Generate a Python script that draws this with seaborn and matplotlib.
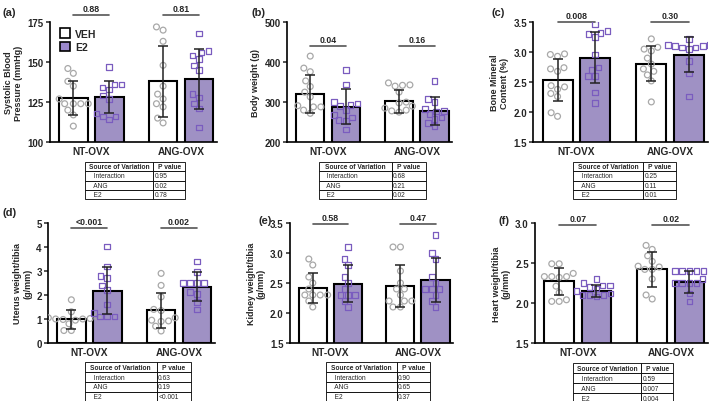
import warnings
import pandas as pd
import matplotlib
matplotlib.use("Agg")
import matplotlib.pyplot as plt
import seaborn as sns
from matplotlib.patches import Patch

warnings.filterwarnings("ignore")

groups = ["NT-OVX", "ANG-OVX"]
treatments = ["VEH", "E2"]
# order of the 4 lists below: NT-VEH, NT-E2, ANG-VEH, ANG-E2

# (a) systolic blood pressure
sbp_mean = [127.5, 128, 138, 139.5]
sbp_sd = [10.5, 10, 22, 18.5]
sbp_pts = [[146, 143, 138, 135, 127, 124, 124, 124, 124, 120, 117, 110],
           [147, 136, 136, 134, 133, 129, 127, 118, 116, 116, 114],
           [172, 170, 163, 148, 135, 130, 127, 124, 122, 115, 112],
           [168, 157, 156, 154, 152, 148, 145, 130, 128, 124, 121, 109]]
sbp_p = ["0.88", "0.81"]
sbp_tab = ["0.95", "0.02", "0.78"]

# (b) body weight
bw_mean = [321, 289, 302, 279]
bw_sd = [48, 44, 29, 35]
bw_pts = [[415, 385, 376, 353, 339, 325, 313, 291, 288, 288, 280, 272],
          [380, 344, 300, 297, 293, 290, 280, 268, 262, 255, 253, 232],
          [348, 343, 342, 340, 325, 300, 298, 290, 285, 280, 278, 275],
          [353, 308, 300, 283, 278, 277, 270, 262, 258, 248, 240]]
bw_p = ["0.04", "0.16"]
bw_tab = ["0.68", "0.21", "0.02"]

# (c) bone mineral content
bmc_mean = [2.53, 2.91, 2.81, 2.96]
bmc_sd = [0.35, 0.43, 0.29, 0.29]
bmc_pts = [[2.97, 2.96, 2.93, 2.74, 2.72, 2.68, 2.44, 2.42, 2.38, 2.31, 2.26, 1.99, 1.93],
           [3.47, 3.35, 3.32, 3.30, 3.25, 2.96, 2.74, 2.70, 2.60, 2.60, 2.33, 2.15],
           [3.22, 3.08, 3.05, 3.02, 2.90, 2.80, 2.72, 2.68, 2.62, 2.52, 2.17],
           [3.22, 3.12, 3.12, 3.10, 3.10, 3.08, 3.08, 3.05, 2.85, 2.64, 2.26]]
bmc_p = ["0.008", "0.30"]
bmc_tab = ["0.25", "0.11", "0.01"]

# (d) uterus weight / tibia
ut_mean = [0.98, 2.18, 1.36, 2.35]
ut_sd = [0.38, 0.97, 0.72, 0.62]
ut_pts = [[1.80, 1.30, 1.10, 1.05, 1.02, 1.00, 1.00, 0.98, 0.95, 0.80, 0.52, 0.52],
          [4.02, 3.18, 2.80, 2.70, 2.40, 2.20, 1.60, 1.25, 1.10, 1.10, 1.10],
          [2.90, 2.40, 1.92, 1.40, 1.35, 1.05, 0.95, 0.92, 0.90, 0.70, 0.50],
          [3.40, 2.95, 2.50, 2.50, 2.50, 2.50, 2.12, 2.05, 1.70, 1.40]]
ut_p = ["<0.001", "0.002"]
ut_tab = ["0.63", "0.19", "<0.001"]

# (e) kidney weight / tibia
kid_mean = [2.42, 2.49, 2.45, 2.55]
kid_sd = [0.25, 0.31, 0.35, 0.37]
kid_pts = [[2.9, 2.8, 2.6, 2.5, 2.4, 2.3, 2.3, 2.3, 2.3, 2.2, 2.1],
           [3.1, 2.9, 2.8, 2.6, 2.5, 2.4, 2.3, 2.3, 2.3, 2.2, 2.1],
           [3.1, 3.1, 2.7, 2.5, 2.4, 2.4, 2.3, 2.2, 2.2, 2.2, 2.1, 2.1],
           [3.3, 3.0, 2.9, 2.6, 2.5, 2.4, 2.4, 2.4, 2.3, 2.2, 2.1]]
kid_p = ["0.58", "0.47"]
kid_tab = ["0.90", "0.65", "0.37"]

# (f) heart weight / tibia
hw_mean = [2.27, 2.15, 2.42, 2.26]
hw_sd = [0.17, 0.07, 0.22, 0.14]
hw_pts = [[2.49, 2.49, 2.37, 2.33, 2.33, 2.33, 2.32, 2.21, 2.13, 2.04, 2.02, 2.02],
          [2.30, 2.25, 2.22, 2.22, 2.20, 2.18, 2.15, 2.12, 2.10, 2.10, 2.10, 2.08],
          [2.72, 2.67, 2.59, 2.52, 2.46, 2.45, 2.42, 2.42, 2.30, 2.10, 2.05],
          [2.40, 2.40, 2.40, 2.40, 2.40, 2.30, 2.25, 2.25, 2.25, 2.25, 2.12, 2.02]]
hw_p = ["0.07", "0.02"]
hw_tab = ["0.59", "0.007", "0.004"]

sources = ["Interaction", "ANG", "E2"]

PURPLE = "#9b88cc"
SQ_EDGE = "#7a5cbf"
CIRC_EDGE = "#a8a8a8"

sns.set_style("ticks")
plt.rcParams["font.family"] = ["Liberation Sans", "DejaVu Sans"]
plt.rcParams["font.weight"] = "bold"
plt.rcParams["axes.labelweight"] = "bold"

fig = plt.figure(figsize=(7.09, 4.02), dpi=100)

# tag, axes rect, means, sds, points, p labels, table, ylabel, ylim, ticks, bracket y, table bbox, tag pos
panels = [
    ("(a)", [0.0705, 0.644, 0.2355, 0.2985], sbp_mean, sbp_sd, sbp_pts, sbp_p, sbp_tab,
     "Systolic Blood\nPressure (mmHg)", (100, 175), [100, 125, 150, 175], 179.5,
     [0.21, -0.475, 0.60, 0.31], (0.004, 0.968)),
    ("(b)", [0.405, 0.644, 0.233, 0.2985], bw_mean, bw_sd, bw_pts, bw_p, bw_tab,
     "Body weight (g)", (200, 500), [200, 300, 400, 500], 440,
     [0.19, -0.475, 0.65, 0.31], (0.355, 0.968)),
    ("(c)", [0.752, 0.644, 0.246, 0.2985], bmc_mean, bmc_sd, bmc_pts, bmc_p, bmc_tab,
     "Bone Mineral\nContent (%)", (1.5, 3.5), [1.5, 2.0, 2.5, 3.0, 3.5], 3.5,
     [0.23, -0.475, 0.59, 0.31], (0.693, 0.968)),
    ("(d)", [0.0677, 0.1443, 0.2355, 0.2985], ut_mean, ut_sd, ut_pts, ut_p, ut_tab,
     "Uterus weight/tibia\n(g/mm)", (0, 5), [0, 1, 2, 3, 4, 5], 4.8,
     [0.22, -0.49, 0.635, 0.33], (0.004, 0.47)),
    ("(e)", [0.409, 0.1443, 0.230, 0.2985], kid_mean, kid_sd, kid_pts, kid_p, kid_tab,
     "Kidney weight/tibia\n(g/mm)", (1.5, 3.5), [1.5, 2.0, 2.5, 3.0, 3.5], 3.48,
     [0.22, -0.49, 0.64, 0.33], (0.364, 0.45)),
    ("(f)", [0.7546, 0.1443, 0.244, 0.2985], hw_mean, hw_sd, hw_pts, hw_p, hw_tab,
     "Heart weight/tibia\n(g/mm)", (1.5, 3.0), [1.5, 2.0, 2.5, 3.0], 2.98,
     [0.22, -0.50, 0.58, 0.33], (0.703, 0.45)),
]

keys = [(g, t) for g in groups for t in treatments]

for tag, rect, means, sds, pts, plab, tab, ylab, ylim, ticks, by, tbox, tagpos in panels:
    ax = fig.add_axes(rect)

    mdf = pd.DataFrame({"group": [k[0] for k in keys], "trt": [k[1] for k in keys],
                        "mean": means})
    rows = []
    for k, vals in zip(keys, pts):
        for v in vals:
            rows.append({"group": k[0], "trt": k[1], "value": v})
    pdf = pd.DataFrame(rows)

    sns.barplot(data=mdf, x="group", y="mean", hue="trt", order=groups,
                hue_order=treatments, palette={"VEH": "white", "E2": PURPLE},
                edgecolor="black", linewidth=1.5, width=0.8, gap=0.2,
                errorbar=None, legend=False, ax=ax, zorder=1)

    ncoll = len(ax.collections)
    sns.swarmplot(data=pdf[pdf.trt == "VEH"], x="group", y="value", hue="trt",
                  order=groups, hue_order=treatments, dodge=True, marker="o",
                  size=4.2, palette={"VEH": "white", "E2": "white"},
                  edgecolor=CIRC_EDGE, linewidth=0.9, legend=False, ax=ax, zorder=3)
    sns.swarmplot(data=pdf[pdf.trt == "E2"], x="group", y="value", hue="trt",
                  order=groups, hue_order=treatments, dodge=True, marker="s",
                  size=4.0, palette={"VEH": "white", "E2": "white"},
                  edgecolor=SQ_EDGE, linewidth=0.9, legend=False, ax=ax, zorder=3)
    for c in ax.collections[ncoll:]:
        c.set_facecolor("none")

    bars = sorted(ax.patches, key=lambda p: p.get_x())
    centers = [p.get_x() + p.get_width() / 2 for p in bars]
    ax.errorbar(centers, means, yerr=sds, fmt="none", ecolor="#222222",
                elinewidth=1.1, capsize=3.5, capthick=1.1, zorder=4)

    # comparison brackets with p values
    for i, lab in enumerate(plab):
        x0, x1 = centers[2 * i], centers[2 * i + 1]
        ax.plot([x0, x1], [by, by], color="#555555", lw=1.2, clip_on=False)
        ax.annotate(lab, xy=((x0 + x1) / 2, by), xytext=(0, 1.5),
                    textcoords="offset points", ha="center", va="bottom",
                    fontsize=6.3, fontweight="bold", annotation_clip=False)

    ax.set_xlim(-0.46, 1.40)
    ax.set_ylim(*ylim)
    ax.set_yticks(ticks)
    ax.set_yticklabels([f"{t:g}" if isinstance(t, int) else f"{t:.1f}" for t in ticks])
    ax.set_xlabel("")
    ax.set_ylabel(ylab, fontsize=6.5, fontweight="bold", labelpad=3)
    ax.tick_params(axis="y", direction="out", length=3, width=1.1, labelsize=7, pad=1.5)
    ax.tick_params(axis="x", length=0, labelsize=7.3, pad=3)
    for lbl in ax.get_xticklabels() + ax.get_yticklabels():
        lbl.set_fontweight("bold")
    sns.despine(ax=ax)
    for s in ["left", "bottom"]:
        ax.spines[s].set_linewidth(1.2)
        ax.spines[s].set_color("black")

    tbl = ax.table(cellText=[[f"   {s}", v] for s, v in zip(sources, tab)],
                   colLabels=["Source of Variation", "P value"],
                   colWidths=[0.68, 0.32], cellLoc="left", bbox=tbox)
    tbl.auto_set_font_size(False)
    tbl.set_fontsize(4.8)
    for (r, c), cell in tbl.get_celld().items():
        cell.set_linewidth(0.6)
        cell.PAD = 0.04
        cell.get_text().set_fontweight("bold" if r == 0 else "normal")

    fig.text(tagpos[0], tagpos[1], tag, fontsize=8, fontweight="bold", va="center")

    if tag == "(a)":
        handles = [Patch(facecolor="white", edgecolor="black", linewidth=1.2),
                   Patch(facecolor=PURPLE, edgecolor="black", linewidth=1.2)]
        ax.legend(handles, treatments, loc="upper left", bbox_to_anchor=(0.02, 1.0),
                  frameon=False, handlelength=1.0, handleheight=1.0,
                  handletextpad=0.5, labelspacing=0.3, borderaxespad=0.2,
                  prop={"weight": "bold", "size": 7.5})

fig.savefig("out.png", dpi=100)
